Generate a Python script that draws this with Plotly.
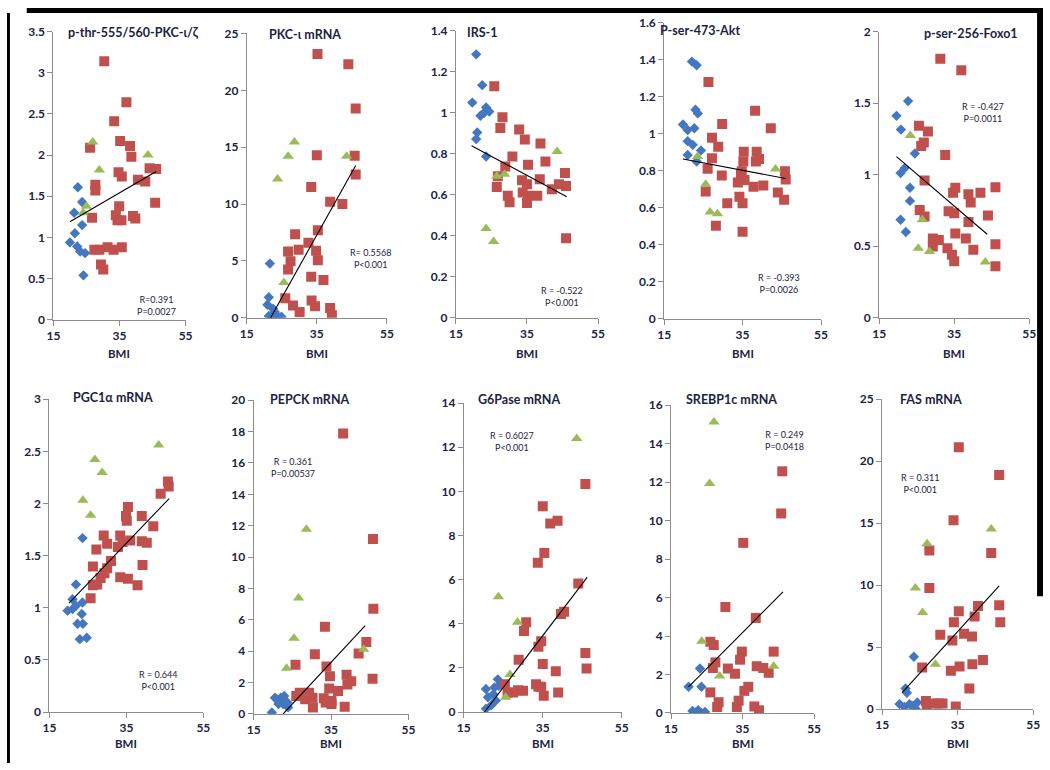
import plotly.graph_objects as go

W, H = 1050, 770

# ---------------- DATA ----------------
titles = ["p-thr-555/560-PKC-ι/ζ", "PKC-ι mRNA", "IRS-1", "P-ser-473-Akt", "p-ser-256-Foxo1",
          "PGC1α mRNA", "PEPCK mRNA", "G6Pase mRNA", "SREBP1c mRNA", "FAS mRNA"]
r_texts = ["R=0.391", "R= 0.5568", "R = -0.522", "R = -0.393", "R = -0.427",
           "R = 0.644", "R = 0.361", "R = 0.6027", "R = 0.249", "R = 0.311"]
p_texts = ["P=0.0027", "P<0.001", "P<0.001", "P=0.0026", "P=0.0011",
           "P<0.001", "P=0.00537", "P<0.001", "P=0.0418", "P<0.001"]
y_max = [3.5, 25, 1.4, 1.6, 2, 3, 20, 14, 16, 25]
y_dtick = [0.5, 5, 0.2, 0.2, 0.5, 0.5, 2, 2, 2, 5]
x_ticks = [15, 35, 55]

# Panel 1: p-thr-555/560-PKC
p1_blue_bmi = [22.4, 23.7, 21.3, 23.7, 21.5, 20.0, 22.2, 23.1, 24.6, 24.1]
p1_blue_val = [1.61, 1.43, 1.30, 1.15, 1.05, 0.94, 0.89, 0.83, 0.81, 0.54]
p1_red_bmi = [30.4, 37.1, 33.4, 26.1, 35.2, 38.2, 38.6, 27.7, 27.7, 34.7, 35.7, 40.6, 42.8, 44.1, 46.1,
              45.8, 34.9, 33.9, 34.4, 35.6, 39.1, 39.8, 26.7, 27.4, 28.9, 31.4, 33.2, 35.7, 29.4, 30.1]
p1_red_val = [3.14, 2.64, 2.41, 2.09, 2.17, 2.11, 1.98, 1.64, 1.57, 1.79, 1.74, 1.70, 1.68, 1.84, 1.83,
              1.42, 1.38, 1.27, 1.21, 1.21, 1.26, 1.23, 1.24, 0.85, 0.85, 0.88, 0.85, 0.88, 0.67, 0.61]
p1_green_bmi = [26.9, 28.9, 43.6, 25.0, 24.0]
p1_green_val = [2.16, 1.82, 2.00, 1.38, 1.30]
p1_trend_bmi = [20.0, 46.1]
p1_trend_val = [1.19, 1.80]

# Panel 2: PKC-iota mRNA
p2_blue_bmi = [21.6, 21.3, 20.9, 22.5, 21.3, 23.0, 23.9, 24.9, 22.2]
p2_blue_val = [4.77, 1.81, 1.15, 0.80, 0.17, 0.52, 0.09, 0.09, 0.09]
p2_red_bmi = [35.2, 44.0, 46.1, 35.0, 45.8, 46.1, 33.4, 38.8, 42.3, 28.8, 35.3, 32.6, 26.8, 29.8, 27.5,
              26.8, 34.8, 35.3, 33.4, 36.9, 26.0, 28.2, 30.1, 33.5, 34.5, 38.8, 39.3]
p2_red_val = [23.2, 22.3, 18.4, 14.3, 14.25, 12.6, 11.5, 10.2, 10.0, 7.36, 7.7, 6.6, 5.83, 5.98, 4.97,
              4.25, 5.9, 5.06, 3.62, 3.33, 1.72, 1.09, 0.52, 1.52, 1.03, 0.86, 0.23]
p2_green_bmi = [28.6, 26.8, 23.8, 43.5, 25.6]
p2_green_val = [15.46, 14.2, 12.2, 14.2, 3.1]
p2_trend_bmi = [21.8, 46.1]
p2_trend_val = [0.0, 13.4]

# Panel 3: IRS-1
p3_blue_bmi = [20.7, 22.4, 19.6, 23.5, 24.4, 21.9, 22.9, 21.0, 20.7, 23.5]
p3_blue_val = [1.284, 1.134, 1.049, 1.025, 1.005, 0.985, 0.998, 0.903, 0.871, 0.786]
p3_red_bmi = [25.8, 28.1, 27.5, 32.8, 34.4, 38.8, 30.9, 35.3, 40.2, 28.9, 26.8, 26.5, 33.6, 35.0, 38.6,
              33.8, 35.3, 29.6, 30.1, 35.0, 37.9, 42.0, 44.0, 45.7, 46.0, 46.0]
p3_red_val = [1.129, 0.978, 0.925, 0.918, 0.869, 0.850, 0.786, 0.746, 0.762, 0.738, 0.690, 0.638, 0.670,
              0.651, 0.675, 0.611, 0.595, 0.595, 0.563, 0.560, 0.595, 0.627, 0.651, 0.706, 0.643, 0.388]
p3_green_bmi = [43.5, 26.5, 28.7, 23.5, 25.6]
p3_green_val = [0.81, 0.69, 0.70, 0.435, 0.372]
p3_trend_bmi = [19.4, 46.2]
p3_trend_val = [0.839, 0.590]

# Panel 4: P-ser-473-Akt
p4_blue_bmi = [22.1, 23.3, 23.0, 23.6, 19.8, 21.0, 22.7, 21.0, 22.3, 24.4, 21.0, 23.3]
p4_blue_val = [1.39, 1.37, 1.13, 1.11, 1.05, 1.02, 1.03, 0.96, 0.94, 0.91, 0.885, 0.85]
p4_red_bmi = [26.3, 38.2, 29.8, 42.2, 27.2, 28.8, 27.2, 26.1, 29.7, 35.3, 38.6, 39.2, 38.4, 35.2, 34.8,
              34.6, 33.8, 35.5, 37.8, 40.3, 45.8, 46.0, 44.0, 45.6, 25.6, 31.1, 34.2, 35.0, 28.2, 35.0]
p4_red_val = [1.279, 1.124, 1.053, 1.030, 0.979, 0.930, 0.868, 0.811, 0.774, 0.903, 0.903, 0.864, 0.850,
              0.850, 0.797, 0.780, 0.736, 0.750, 0.714, 0.721, 0.797, 0.753, 0.683, 0.644, 0.688, 0.624,
              0.660, 0.624, 0.503, 0.471]
p4_green_bmi = [23.5, 25.6, 26.7, 28.6, 43.4]
p4_green_val = [0.877, 0.727, 0.577, 0.568, 0.81]
p4_trend_bmi = [19.8, 46.0]
p4_trend_val = [0.864, 0.758]

# Panel 5: p-ser-256-Foxo1
p5_blue_bmi = [22.7, 19.6, 20.8, 24.5, 21.8, 20.7, 23.2, 23.2, 20.7, 22.1]
p5_blue_val = [1.514, 1.411, 1.315, 1.148, 1.046, 1.011, 0.909, 0.817, 0.685, 0.600]
p5_red_bmi = [31.3, 36.9, 25.6, 28.0, 26.9, 26.2, 32.6, 27.1, 35.3, 34.7, 38.8, 42.0, 46.0, 39.4, 25.8,
              27.1, 33.5, 35.0, 38.8, 44.0, 35.3, 29.3, 30.9, 38.1, 40.1, 29.3, 33.2, 34.4, 35.0, 46.0, 46.0]
p5_red_val = [1.81, 1.73, 1.342, 1.301, 1.224, 1.201, 1.137, 0.959, 0.909, 0.874, 0.863, 0.874, 0.913,
              0.806, 0.753, 0.708, 0.744, 0.731, 0.669, 0.715, 0.589, 0.555, 0.543, 0.555, 0.475, 0.498,
              0.486, 0.441, 0.395, 0.514, 0.361]
p5_green_bmi = [23.3, 26.5, 25.4, 28.4, 43.3]
p5_green_val = [1.274, 0.685, 0.486, 0.463, 0.390]
p5_trend_bmi = [19.6, 43.8]
p5_trend_val = [1.126, 0.584]

# Panel 6: PGC1alpha mRNA
p6_blue_bmi = [23.6, 21.9, 21.0, 23.6, 19.7, 21.0, 21.9, 23.4, 22.3, 23.7, 22.9, 24.7]
p6_blue_val = [1.668, 1.223, 1.082, 1.050, 0.972, 0.987, 1.019, 0.940, 0.846, 0.846, 0.699, 0.712]
p6_red_bmi = [45.8, 46.0, 43.9, 35.4, 34.9, 35.1, 39.0, 42.0, 29.1, 33.4, 34.0, 30.0, 36.0, 39.0, 40.3,
              32.8, 27.2, 31.0, 30.0, 26.3, 39.2, 33.4, 35.4, 29.3, 28.3, 27.4, 26.3, 37.9, 25.7]
p6_red_val = [2.21, 2.163, 2.094, 1.966, 1.881, 1.834, 1.881, 1.781, 1.693, 1.693, 1.630, 1.614, 1.646,
              1.639, 1.624, 1.583, 1.558, 1.448, 1.379, 1.395, 1.411, 1.292, 1.279, 1.332, 1.285, 1.223,
              1.216, 1.216, 1.091]
p6_green_bmi = [43.4, 26.8, 28.7, 23.7, 25.7]
p6_green_val = [2.561, 2.423, 2.298, 2.031, 1.887]
p6_trend_bmi = [20.1, 46.1]
p6_trend_val = [1.044, 2.047]

# Panel 7: PEPCK mRNA
p7_blue_bmi = [19.7, 20.9, 22.0, 22.9, 21.4, 22.6, 23.7, 23.9, 20.5]
p7_blue_val = [0.10, 0.94, 1.04, 1.15, 0.63, 0.63, 0.73, 0.42, 1.04]
p7_red_bmi = [38.1, 45.8, 45.9, 33.4, 44.1, 42.1, 30.8, 25.8, 33.8, 34.7, 39.0, 40.2, 39.2, 45.7, 34.5,
              36.8, 26.9, 29.3, 30.2, 28.3, 33.1, 35.1, 33.6, 30.3, 35.1, 38.5, 26.0]
p7_red_val = [17.88, 11.15, 6.71, 5.56, 4.58, 3.85, 3.81, 3.13, 3.02, 2.40, 2.50, 2.08, 1.88, 2.25, 1.63,
              1.46, 1.35, 1.35, 1.04, 0.94, 1.0, 0.83, 0.73, 0.42, 0.63, 0.46, 1.15]
p7_green_bmi = [28.6, 26.6, 25.4, 23.5, 43.4]
p7_green_val = [11.77, 7.40, 4.83, 2.92, 4.13]
p7_trend_bmi = [22.6, 43.8]
p7_trend_val = [0.0, 5.63]

# Panel 8: G6Pase mRNA
p8_blue_bmi = [23.6, 23.9, 20.6, 21.1, 22.5, 23.1, 21.9, 20.6, 22.75]
p8_blue_val = [1.48, 1.19, 1.04, 0.67, 0.81, 0.52, 0.30, 0.15, 1.11]
p8_red_bmi = [45.8, 35.0, 36.9, 38.75, 35.4, 33.75, 44.0, 30.8, 30.25, 39.6, 40.4, 34.6, 33.9, 28.9, 35.0,
              38.3, 45.8, 46.1, 33.3, 33.9, 34.6, 35.25, 38.9, 27.5, 30.0, 28.75, 25.4, 26.1]
p8_red_val = [10.34, 9.33, 8.55, 8.67, 7.21, 6.77, 5.82, 4.07, 3.67, 4.44, 4.55, 3.21, 2.96, 2.37, 2.18,
              1.85, 2.67, 1.97, 1.26, 1.14, 1.14, 0.74, 0.89, 0.89, 0.96, 0.99, 1.26, 0.89]
p8_green_bmi = [43.6, 23.75, 28.6, 26.7, 25.6]
p8_green_val = [12.40, 5.23, 4.07, 1.70, 0.67]
p8_trend_bmi = [20.25, 46.25]
p8_trend_val = [0.0, 6.10]

# Panel 9: SREBP1c mRNA
p9_blue_bmi = [23.1, 19.9, 23.5, 21.0, 22.1, 23.5, 24.5, 22.6]
p9_blue_val = [2.31, 1.36, 1.36, 0.10, 0.05, 0.0, 0.05, 0.14]
p9_red_bmi = [46.1, 45.8, 35.2, 30.2, 38.7, 26.0, 26.95, 34.8, 43.7, 34.3, 27.4, 26.7, 30.9, 32.9, 38.95,
              40.8, 42.3, 36.6, 35.5, 26.0, 28.3, 27.9, 33.9, 33.4, 38.3, 39.6]
p9_red_val = [12.56, 10.37, 8.84, 5.51, 4.94, 3.70, 3.53, 3.19, 3.19, 2.77, 2.63, 2.34, 2.31, 2.04, 2.43,
              2.34, 2.09, 1.36, 1.15, 1.07, 0.56, 0.31, 0.64, 0.31, 0.34, 0.14]
p9_green_bmi = [27.0, 25.8, 23.6, 28.6, 43.7]
p9_green_val = [15.12, 11.93, 3.73, 1.92, 2.43]
p9_trend_bmi = [19.9, 46.3]
p9_trend_val = [1.36, 6.29]

# Panel 10: FAS mRNA
p10_blue_bmi = [23.4, 21.2, 21.55, 19.6, 20.9, 22.25, 23.1, 23.8, 24.3]
p10_blue_val = [4.22, 1.66, 1.32, 0.40, 0.18, 0.40, 0.26, 0.05, 0.53]
p10_red_bmi = [35.3, 46.0, 33.9, 27.5, 43.9, 27.5, 35.3, 34.0, 40.4, 39.5, 46.0, 46.3, 30.4, 36.7, 38.8,
               33.6, 25.6, 33.2, 35.5, 38.9, 41.7, 38.1, 26.6, 28.6, 29.9, 31.0, 34.5, 26.8]
p10_red_val = [21.12, 18.88, 15.23, 12.80, 12.59, 9.77, 7.9, 7.0, 8.32, 7.47, 8.37, 7.0, 5.99, 6.07, 5.86,
               5.54, 3.35, 3.09, 3.43, 3.62, 3.96, 1.66, 0.66, 0.45, 0.45, 0.45, 0.21, 0.13]
p10_green_bmi = [26.9, 43.9, 23.8, 25.7, 29.1]
p10_green_val = [13.33, 14.52, 9.77, 7.79, 3.62]
p10_trend_bmi = [20.3, 46.0]
p10_trend_val = [1.32, 9.95]

blue_bmi = [p1_blue_bmi, p2_blue_bmi, p3_blue_bmi, p4_blue_bmi, p5_blue_bmi,
            p6_blue_bmi, p7_blue_bmi, p8_blue_bmi, p9_blue_bmi, p10_blue_bmi]
blue_val = [p1_blue_val, p2_blue_val, p3_blue_val, p4_blue_val, p5_blue_val,
            p6_blue_val, p7_blue_val, p8_blue_val, p9_blue_val, p10_blue_val]
red_bmi = [p1_red_bmi, p2_red_bmi, p3_red_bmi, p4_red_bmi, p5_red_bmi,
           p6_red_bmi, p7_red_bmi, p8_red_bmi, p9_red_bmi, p10_red_bmi]
red_val = [p1_red_val, p2_red_val, p3_red_val, p4_red_val, p5_red_val,
           p6_red_val, p7_red_val, p8_red_val, p9_red_val, p10_red_val]
green_bmi = [p1_green_bmi, p2_green_bmi, p3_green_bmi, p4_green_bmi, p5_green_bmi,
             p6_green_bmi, p7_green_bmi, p8_green_bmi, p9_green_bmi, p10_green_bmi]
green_val = [p1_green_val, p2_green_val, p3_green_val, p4_green_val, p5_green_val,
             p6_green_val, p7_green_val, p8_green_val, p9_green_val, p10_green_val]
trend_bmi = [p1_trend_bmi, p2_trend_bmi, p3_trend_bmi, p4_trend_bmi, p5_trend_bmi,
             p6_trend_bmi, p7_trend_bmi, p8_trend_bmi, p9_trend_bmi, p10_trend_bmi]
trend_val = [p1_trend_val, p2_trend_val, p3_trend_val, p4_trend_val, p5_trend_val,
             p6_trend_val, p7_trend_val, p8_trend_val, p9_trend_val, p10_trend_val]

# ---------------- LAYOUT (pixel geometry of each panel) ----------------
# (x of axis at BMI 15, x at BMI 55, y of value 0, y of top value)
panel_px = [(47, 181, 318, 24), (243, 385, 316, 26), (455, 599, 316, 23), (666, 825, 317, 15),
            (884, 1036, 316, 24), (43, 199, 718, 399), (250, 407, 720, 400), (463, 623, 718, 403),
            (673, 818, 719, 405), (887, 1040, 715, 399)]
title_px = [(128, 25), (302, 27), (482, 25), (702, 23), (977, 26),
            (107, 397), (307, 399), (519, 399), (734, 399), (936, 399)]
rp_px = [(152, 296), (368, 248), (563, 286), (782, 273), (989, 99),
         (153, 678), (290, 461), (512, 434), (788, 433), (925, 477)]
bmi_label_y = [352, 352, 352, 352, 352, 750, 750, 750, 750, 750]

BLUE, RED, GREEN = "#4477C0", "#C0504D", "#9BBB59"
AXIS = "#8C8C8C"
TXT = "#1C2340"
FONT = "Lato"

def xp(px):
    return px / W

def yp(py):
    return 1 - py / H

fig = go.Figure()
layout = {}
annotations = []
for i in range(10):
    n = "" if i == 0 else str(i + 1)
    xa, ya = "x" + n, "y" + n
    x0, x1, y0, y1 = panel_px[i]
    fig.add_trace(go.Scatter(x=blue_bmi[i], y=blue_val[i], mode="markers", xaxis=xa, yaxis=ya,
                             marker=dict(symbol="diamond", size=8, color=BLUE), showlegend=False))
    fig.add_trace(go.Scatter(x=red_bmi[i], y=red_val[i], mode="markers", xaxis=xa, yaxis=ya,
                             marker=dict(symbol="square", size=10, color=RED), showlegend=False))
    fig.add_trace(go.Scatter(x=green_bmi[i], y=green_val[i], mode="markers", xaxis=xa, yaxis=ya,
                             marker=dict(symbol="triangle-up", size=10, color=GREEN), showlegend=False))
    fig.add_trace(go.Scatter(x=trend_bmi[i], y=trend_val[i], mode="lines", xaxis=xa, yaxis=ya,
                             line=dict(color="black", width=1.1), showlegend=False))
    layout["xaxis" + n] = dict(domain=[xp(x0), xp(x1)], range=[15, 55], tickvals=x_ticks,
                               anchor=ya, showgrid=False, zeroline=False, showline=True,
                               linecolor=AXIS, linewidth=1, ticks="outside", ticklen=5,
                               tickcolor=AXIS, tickfont=dict(family=FONT, size=12, color=TXT,
                                                             weight="bold"))
    layout["yaxis" + n] = dict(domain=[yp(y0), yp(y1)], range=[0, y_max[i]], dtick=y_dtick[i],
                               tick0=0, anchor=xa, showgrid=False, zeroline=False, showline=True,
                               linecolor=AXIS, linewidth=1, ticks="outside", ticklen=5,
                               tickcolor=AXIS, tickfont=dict(family=FONT, size=12, color=TXT,
                                                             weight="bold"))
    tx, ty = title_px[i]
    annotations.append(dict(text=titles[i], x=xp(tx), y=yp(ty), xref="paper", yref="paper",
                            showarrow=False, xanchor="center", yanchor="middle",
                            font=dict(family=FONT, size=12.5, color=TXT, weight="bold")))
    rx, ry = rp_px[i]
    annotations.append(dict(text=r_texts[i] + "<br>" + p_texts[i], x=xp(rx), y=yp(ry - 6),
                            xref="paper", yref="paper", showarrow=False, xanchor="center",
                            yanchor="top", align="center",
                            font=dict(family=FONT, size=9, color=TXT)))
    annotations.append(dict(text="BMI", x=xp((x0 + x1) / 2), y=yp(bmi_label_y[i]),
                            xref="paper", yref="paper", showarrow=False, xanchor="center",
                            yanchor="middle", font=dict(family=FONT, size=11.5, color=TXT,
                                                        weight="bold")))

shapes = [
    dict(type="rect", xref="paper", yref="paper", x0=xp(20), x1=1, y0=yp(5), y1=1,
         fillcolor="black", line=dict(width=0), layer="above"),
    dict(type="rect", xref="paper", yref="paper", x0=0, x1=xp(3), y0=0, y1=yp(5),
         fillcolor="black", line=dict(width=0), layer="above"),
    dict(type="rect", xref="paper", yref="paper", x0=xp(1044), x1=1, y0=yp(600), y1=1,
         fillcolor="black", line=dict(width=0), layer="above"),
]

fig.update_layout(width=W, height=H, margin=dict(l=0, r=0, t=0, b=0),
                  paper_bgcolor="white", plot_bgcolor="white",
                  annotations=annotations, shapes=shapes, **layout)
fig.write_html("out.html", config={"displayModeBar": False},
               post_script="document.body.style.margin='0px';document.body.style.overflow='hidden';")
